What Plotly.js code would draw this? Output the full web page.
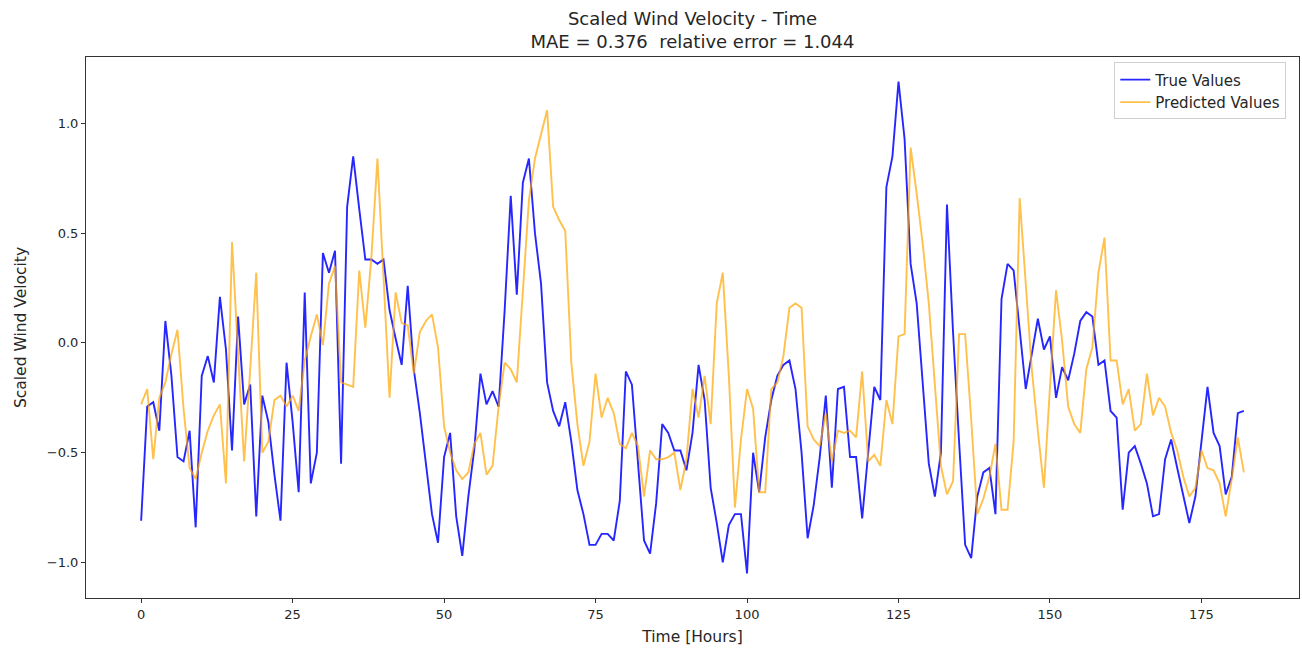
<!DOCTYPE html>
<html>
<head>
<meta charset="utf-8">
<script src="https://cdn.plot.ly/plotly-3.0.1.min.js"></script>
<style>
  html, body { margin: 0; padding: 0; background: #fff; }
  #chart { width: 1302px; height: 651px; }
</style>
</head>
<body>
<div id="chart"></div>
<script>
// Hourly scaled wind velocity: measured vs. model prediction
const hours = Array.from({length: 183}, (_, i) => i);

const trueValues = [
  -0.81, -0.29, -0.27, -0.40, 0.10, -0.15, -0.52, -0.54, -0.40, -0.84,
  -0.15, -0.06, -0.18, 0.21, -0.03, -0.49, 0.12, -0.28, -0.19, -0.79,
  -0.24, -0.36, -0.60, -0.81, -0.09, -0.36, -0.68, 0.23, -0.64, -0.50,
  0.41, 0.32, 0.42, -0.55, 0.62, 0.85, 0.61, 0.38, 0.38, 0.36,
  0.38, 0.15, 0.02, -0.10, 0.26, -0.12, -0.32, -0.55, -0.78, -0.91,
  -0.52, -0.41, -0.79, -0.97, -0.70, -0.48, -0.14, -0.28, -0.22, -0.29,
  0.15, 0.67, 0.22, 0.73, 0.84, 0.50, 0.27, -0.18, -0.31, -0.38,
  -0.27, -0.45, -0.67, -0.78, -0.92, -0.92, -0.87, -0.87, -0.90, -0.72,
  -0.13, -0.19, -0.55, -0.90, -0.96, -0.73, -0.37, -0.41, -0.49, -0.49,
  -0.58, -0.41, -0.10, -0.26, -0.66, -0.82, -1.00, -0.83, -0.78, -0.78,
  -1.05, -0.50, -0.68, -0.43, -0.26, -0.15, -0.10, -0.08, -0.21, -0.50,
  -0.89, -0.74, -0.52, -0.24, -0.66, -0.21, -0.20, -0.52, -0.52, -0.80,
  -0.50, -0.20, -0.26, 0.71, 0.85, 1.19, 0.93, 0.36, 0.18, -0.20,
  -0.55, -0.70, -0.50, 0.63, 0.05, -0.45, -0.92, -0.98, -0.70, -0.59,
  -0.57, -0.78, 0.20, 0.36, 0.33, 0.06, -0.21, -0.05, 0.11, -0.03,
  0.03, -0.25, -0.11, -0.17, -0.05, 0.10, 0.14, 0.12, -0.10, -0.08,
  -0.31, -0.34, -0.76, -0.50, -0.47, -0.55, -0.64, -0.79, -0.78, -0.53,
  -0.44, -0.57, -0.70, -0.82, -0.70, -0.44, -0.20, -0.41, -0.47, -0.69,
  -0.61, -0.32, -0.31
];

const predictedValues = [
  -0.28, -0.21, -0.53, -0.25, -0.18, -0.05, 0.06, -0.30, -0.57, -0.62,
  -0.50, -0.40, -0.33, -0.28, -0.64, 0.46, -0.05, -0.54, -0.12, 0.32,
  -0.50, -0.45, -0.26, -0.24, -0.29, -0.24, -0.31, -0.08, 0.03, 0.13,
  -0.01, 0.27, 0.35, -0.18, -0.19, -0.20, 0.33, 0.07, 0.39, 0.84,
  0.30, -0.25, 0.23, 0.09, 0.08, -0.14, 0.05, 0.10, 0.13, -0.02,
  -0.38, -0.50, -0.58, -0.62, -0.59, -0.46, -0.41, -0.60, -0.56, -0.29,
  -0.09, -0.12, -0.18, 0.26, 0.65, 0.84, 0.95, 1.06, 0.62, 0.56,
  0.51, -0.09, -0.37, -0.56, -0.45, -0.14, -0.34, -0.25, -0.32, -0.46,
  -0.48, -0.41, -0.47, -0.70, -0.49, -0.53, -0.53, -0.52, -0.50, -0.67,
  -0.53, -0.21, -0.34, -0.15, -0.37, 0.18, 0.32, -0.15, -0.75, -0.44,
  -0.21, -0.30, -0.68, -0.68, -0.21, -0.18, -0.06, 0.16, 0.18, 0.16,
  -0.38, -0.44, -0.47, -0.32, -0.54, -0.40, -0.41, -0.40, -0.43, -0.13,
  -0.54, -0.51, -0.56, -0.26, -0.37, 0.03, 0.04, 0.89, 0.68, 0.45,
  0.18, -0.20, -0.56, -0.69, -0.63, 0.04, 0.04, -0.35, -0.78, -0.71,
  -0.61, -0.46, -0.76, -0.76, -0.45, 0.66, 0.27, -0.12, -0.40, -0.66,
  -0.20, 0.24, 0.01, -0.29, -0.37, -0.41, -0.12, -0.02, 0.32, 0.48,
  -0.08, -0.08, -0.28, -0.21, -0.40, -0.37, -0.14, -0.33, -0.25, -0.29,
  -0.41, -0.49, -0.61, -0.70, -0.66, -0.49, -0.57, -0.58, -0.64, -0.79,
  -0.62, -0.43, -0.59
];

const xTicks = [0, 25, 50, 75, 100, 125, 150, 175];
const yTicks = [-1.0, -0.5, 0.0, 0.5, 1.0];

const FONT = 'DejaVu Sans, sans-serif';
const INK = '#262626';

const traces = [
  {
    x: hours, y: trueValues, type: 'scatter', mode: 'lines',
    name: 'True Values',
    line: {color: 'rgba(0,0,255,0.85)', width: 1.9}
  },
  {
    x: hours, y: predictedValues, type: 'scatter', mode: 'lines',
    name: 'Predicted Values',
    line: {color: 'rgba(255,165,0,0.7)', width: 1.9}
  }
];

const layout = {
  width: 1302, height: 651,
  paper_bgcolor: '#fff', plot_bgcolor: '#fff',
  margin: {l: 86, r: 3, t: 57, b: 53},
  font: {family: FONT, size: 13, color: INK},
  title: {
    text: 'Scaled Wind Velocity - Time<br>MAE = 0.376&nbsp;&nbsp;relative error = 1.044',
    font: {family: FONT, size: 18, color: INK},
    x: 0.5, xanchor: 'center', xref: 'paper',
    y: 1 - 25 / 651, yanchor: 'middle', yref: 'container'
  },
  xaxis: {
    range: [-9.1, 191.1],
    tickvals: xTicks,
    ticks: 'outside', ticklen: 4, tickwidth: 1, tickcolor: '#333',
    showline: true, linecolor: '#333', linewidth: 1, mirror: true,
    showgrid: false, zeroline: false,
    tickfont: {family: FONT, size: 13, color: INK},
    title: {text: 'Time [Hours]', font: {family: FONT, size: 15.5, color: INK}, standoff: 10}
  },
  yaxis: {
    range: [-1.162, 1.3025],
    tickvals: yTicks, tickformat: '.1f',
    ticks: 'outside', ticklen: 4, tickwidth: 1, tickcolor: '#333',
    showline: true, linecolor: '#333', linewidth: 1, mirror: true,
    showgrid: false, zeroline: false,
    tickfont: {family: FONT, size: 13, color: INK},
    title: {text: 'Scaled Wind Velocity', font: {family: FONT, size: 15.5, color: INK}, standoff: 16}
  },
  showlegend: true,
  legend: {
    x: 0.9895, y: 0.99, xanchor: 'right', yanchor: 'top',
    bgcolor: 'rgba(255,255,255,0.8)', bordercolor: '#d0d0d0', borderwidth: 1,
    font: {family: FONT, size: 15, color: INK},
    tracegroupgap: 0
  }
};

Plotly.newPlot('chart', traces, layout, {displayModeBar: false, staticPlot: true});
</script>
</body>
</html>
